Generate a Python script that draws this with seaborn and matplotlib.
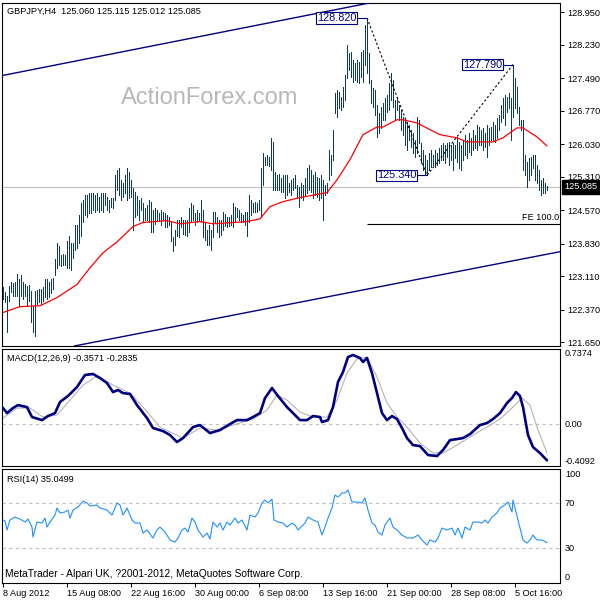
import numpy as np
import pandas as pd
import matplotlib
matplotlib.use("Agg")
import matplotlib.pyplot as plt
import seaborn as sns

# ---------------- data ----------------
symbol_title = "GBPJPY,H4  125.060 125.115 125.012 125.085"
last_close = 125.085

highs = [
    122.87, 122.76, 122.67, 122.89, 122.98, 122.96, 122.98, 123.17, 123.06, 123.15,
    122.98, 122.93, 122.89, 122.91, 122.78, 122.45, 122.78, 122.80, 122.82, 122.82,
    122.88, 123.04, 123.06, 122.99, 123.04, 123.08,
    123.50, 123.85, 123.79, 123.59, 123.61, 123.59, 123.90, 123.99, 123.85, 123.85,
    124.25, 124.25, 124.47, 124.74, 124.80, 124.91, 124.91, 124.96, 124.96, 124.96,
    124.91, 124.96, 124.87, 124.96, 124.96, 124.96, 124.87, 124.80, 124.85, 124.85,
    125.35, 125.47, 125.51, 125.24, 125.18, 125.35, 125.51, 125.42, 125.24, 125.07,
    124.98, 124.89, 124.80, 124.85, 124.74, 124.63, 124.69, 124.80, 124.76, 124.58,
    124.63, 124.58, 124.52, 124.58, 124.54, 124.52, 124.47, 124.41, 124.32, 123.97,
    124.14, 124.36, 124.36, 124.41, 124.36, 124.36, 124.36, 124.63, 124.74, 124.69,
    124.52, 124.58, 124.52, 124.80, 124.58, 124.32, 124.14, 124.25, 124.14, 124.54,
    124.54, 124.43, 124.36, 124.36, 124.54, 124.49, 124.41, 124.43, 124.47, 124.74,
    124.65, 124.63, 124.58, 124.52, 124.47, 124.54, 124.54, 124.91, 124.80, 124.74,
    124.76, 124.74, 124.80, 125.51, 125.84, 125.75, 125.80, 125.75, 126.17, 126.08,
    125.42, 125.35, 125.38, 125.29, 125.35, 125.35, 125.35, 125.18, 125.24, 125.29,
    125.35, 125.13, 125.09,
    125.18, 125.13, 125.29, 125.51, 125.58, 125.47, 125.35, 125.42, 125.31, 125.29,
    125.35, 125.24, 125.13, 125.18, 125.91, 125.80, 126.35,
    127.16, 127.23, 127.18, 127.07, 127.30, 127.56, 128.22, 128.05, 128.07, 127.89,
    127.83, 127.89, 127.85, 128.07, 128.11, 128.66, 128.82, 128.05, 127.45, 127.27,
    127.23, 126.90, 126.72, 126.85, 126.94, 127.05, 127.12, 127.38, 127.60, 127.45,
    127.01, 127.05, 126.90, 126.79, 126.63, 126.57, 126.52, 126.46, 126.35, 126.28,
    126.13, 126.63, 126.57, 126.06, 125.91, 125.80, 125.69, 125.84, 125.91, 125.80,
    125.91, 125.84, 125.95, 126.02, 126.06, 126.02, 126.06,
    126.08, 126.02, 126.06, 126.02, 126.19, 126.08, 126.02, 126.13, 126.24, 126.13,
    126.28, 126.17, 126.35, 126.24, 126.46, 126.41, 126.35, 126.39, 126.28, 126.46,
    126.39, 126.41, 126.52, 126.46, 126.61, 126.68, 126.90, 127.05, 127.12, 127.07,
    127.16, 127.05, 127.79, 127.49, 127.30, 126.85, 126.57, 126.57, 125.80, 125.64,
    125.73, 125.75, 125.80, 125.80, 125.58, 125.47, 125.24, 125.29, 125.18, 125.115,
]
lows = [
    122.60, 122.54, 121.87, 122.56, 122.76, 122.67, 122.67, 122.67, 122.45, 122.67,
    122.60, 122.67, 122.45, 122.56, 122.11, 121.89, 121.78, 122.49, 122.54, 122.49,
    122.56, 122.65, 122.60, 122.66, 122.75, 122.82,
    123.13, 123.30, 123.35, 123.33, 123.35, 123.35, 123.30, 123.30, 123.26, 123.52,
    123.70, 123.74, 123.85, 123.99, 124.32, 124.47, 124.43, 124.52, 124.52, 124.58,
    124.54, 124.58, 124.54, 124.58, 124.54, 124.69, 124.58, 124.54, 124.65, 124.63,
    124.80, 125.02, 124.91, 124.80, 124.87, 124.96, 124.80, 124.85, 124.87, 124.14,
    124.43, 124.47, 124.36, 124.58, 124.32, 124.36, 124.36, 124.32, 124.10, 124.10,
    124.27, 124.36, 124.36, 124.25, 124.36, 124.21, 124.19, 124.25, 123.88, 123.66,
    123.81, 123.99, 123.97, 124.19, 124.05, 124.03, 123.99, 124.10, 124.32, 124.36,
    124.25, 124.32, 124.36, 124.32, 123.97, 123.92, 123.81, 123.81, 123.70, 123.97,
    124.32, 124.10, 123.97, 124.03, 124.14, 124.23, 124.19, 124.23, 124.25, 124.21,
    124.30, 124.41, 124.36, 124.32, 124.30, 124.25, 123.99, 124.32, 124.47, 124.54,
    124.54, 124.54, 124.58, 124.41, 125.13, 125.58, 125.58, 125.54, 125.47, 125.02,
    125.02, 125.02, 125.02, 124.98, 124.98, 124.85, 124.91, 124.98, 124.91, 125.02,
    125.07, 124.85, 124.65,
    124.85, 124.80, 124.91, 124.96, 125.02, 124.98, 124.85, 124.91, 124.87, 124.80,
    124.85, 124.36, 124.91, 124.96, 125.24, 125.35, 125.69,
    126.72, 126.63, 126.83, 126.79, 126.85, 127.01, 127.49, 127.67, 127.52, 127.41,
    127.45, 127.41, 127.38, 127.52, 127.41, 127.78, 127.60, 127.38, 126.94, 126.85,
    126.68, 126.19, 126.28, 126.39, 126.57, 126.57, 126.74, 126.79, 127.01, 126.85,
    126.57, 126.79, 126.57, 126.35, 126.24, 126.02, 125.91, 126.13, 125.97, 125.84,
    125.75, 125.84, 126.06, 125.62, 125.47, 125.35, 125.34, 125.47, 125.53, 125.58,
    125.53, 125.58, 125.62, 125.69, 125.69, 125.62, 125.75,
    125.58, 125.69, 125.47, 125.73, 125.64, 125.51, 125.47, 125.69, 125.80, 125.73,
    125.86, 125.80, 125.91, 125.95, 125.91, 126.02, 126.02, 125.91, 125.97, 125.75,
    126.02, 126.13, 126.13, 126.08, 126.17, 126.35, 126.52, 126.61, 126.46, 126.74,
    126.83, 126.13, 126.63, 126.83, 126.72, 126.46, 126.35, 125.47, 125.35, 125.09,
    125.24, 125.35, 125.51, 125.24, 125.18, 125.02, 124.91, 124.96, 124.96, 125.012,
]

ma_bar = [0, 8.5, 18.5, 27, 37, 43.5, 50, 57, 65, 70, 82, 88.5, 98.5, 105, 115, 122,
          128.5, 133.5, 140, 148.5, 162, 167, 173.5, 180, 187, 190, 197, 200, 207,
          213.5, 218.5, 227, 232, 245, 250, 257, 260, 267, 272]
ma_val = [122.31, 122.44, 122.46, 122.64, 122.93, 123.30, 123.63, 123.87, 124.21, 124.30,
          124.34, 124.27, 124.32, 124.27, 124.30, 124.32, 124.38, 124.65, 124.76, 124.85,
          124.96, 125.24, 125.69, 126.24, 126.41, 126.41, 126.57, 126.57, 126.50, 126.35,
          126.24, 126.17, 126.08, 126.08, 126.17, 126.39, 126.39, 126.19, 125.99]

macd_bar = [0, 2, 5, 7.5, 12, 14.5, 19.5, 22.5, 26, 28.5, 32.5, 37, 41, 45, 48.5, 52, 55,
            57.5, 60, 63.5, 67, 72, 75, 80, 83.5, 87, 90, 95, 98.5, 103.5, 108.5, 113.5,
            117, 122, 125, 128.5, 131, 134.5, 137.5, 142, 148.5, 152, 155, 158.5, 159.5,
            162.5, 165, 167.5, 170, 172.5, 175, 178.5, 180, 182, 184.5, 187, 189.5, 192,
            194.5, 197, 199.5, 202, 205, 208.5, 212.5, 217, 220, 223.5, 227, 230, 233.5,
            238.5, 242, 245, 248.5, 252, 254.5, 256.5, 258.5, 260, 262.5, 265, 268.5, 272]
macd_val = [0.158, 0.108, 0.158, 0.187, 0.167, 0.069, 0.039, 0.079, 0.108, 0.217, 0.276,
            0.365, 0.483, 0.493, 0.453, 0.404, 0.315, 0.335, 0.305, 0.296, 0.187, 0.059,
            -0.039, -0.069, -0.108, -0.177, -0.138, -0.030, -0.010, -0.089, -0.059, 0.0,
            0.039, 0.039, 0.069, 0.108, 0.256, 0.355, 0.276, 0.167, 0.039, 0.039, 0.079,
            0.069, 0.020, 0.039, 0.167, 0.414, 0.512, 0.660, 0.680, 0.650, 0.611, 0.650,
            0.502, 0.305, 0.108, 0.039, 0.079, 0.049, -0.039, -0.138, -0.207, -0.217,
            -0.305, -0.315, -0.256, -0.158, -0.148, -0.138, -0.099, -0.010, 0.010, 0.049,
            0.108, 0.207, 0.256, 0.315, 0.276, 0.167, -0.108, -0.227, -0.286, -0.3571]

sig_bar = [0, 7, 13.5, 20, 27, 33.5, 40, 47, 55, 63.5, 70, 78.5, 90, 98.5, 107, 115, 125,
           132, 137, 142, 148.5, 155, 162, 167, 172, 177, 182, 187, 192, 197, 202, 208.5,
           215, 220, 227, 235, 242, 248.5, 255, 259.5, 263.5, 267.5, 272]
sig_val = [0.059, 0.158, 0.158, 0.069, 0.089, 0.236, 0.384, 0.473, 0.384, 0.305, 0.167,
           -0.030, -0.138, -0.039, -0.059, -0.010, 0.049, 0.138, 0.286, 0.236, 0.118,
           0.069, 0.069, 0.236, 0.502, 0.640, 0.660, 0.463, 0.207, 0.069, -0.030, -0.187,
           -0.286, -0.286, -0.207, -0.108, -0.030, 0.049, 0.167, 0.256, 0.187, -0.059,
           -0.2835]

rsi_bar = [0, 1, 2, 3.5, 6, 8.5, 11, 12.5, 14.5, 15, 17, 19.5, 21, 22, 23.5, 26, 27, 28.5,
           31, 32.5, 33.5, 35, 37.5, 40, 42, 43.5, 47, 48.5, 52, 54.5, 57, 58.5, 60, 62,
           64.5, 66, 68.5, 70, 72, 75, 77, 78.5, 81, 83.5, 86, 87.5, 89.5, 91, 92.5, 94.5,
           96, 97.5, 100, 102, 103.5, 105, 107, 108.5, 110, 112, 113.5, 116, 117.5, 119.5,
           122, 123.5, 126, 127.5, 129.5, 131, 132.5, 134.5, 135.5, 137.5, 140, 142,
           144.5, 146, 147.5, 148.5, 151, 152.5, 155, 157.5, 159.5, 161, 162.5, 164.5,
           166, 167.5, 169.5, 171, 172.5, 174.5, 177, 179.5, 181, 182.5, 184.5, 186,
           187.5, 189.5, 191, 193.5, 195, 197, 199.5, 202, 205, 207.5, 209.5, 212, 213.5,
           216, 217.5, 219.5, 222, 224.5, 226, 227.5, 229.5, 231, 233.5, 235, 237.5,
           239.5, 241, 242.5, 244.5, 247, 248.5, 251, 252.5, 254.5, 255, 257.5, 260, 262,
           263.5, 265, 267, 269.5, 272]
rsi_val = [55.2, 54.3, 46.3, 55.2, 57.8, 56.0, 53.4, 56.0, 48.9, 40.0, 53.4, 52.5, 56.9,
           48.9, 53.4, 59.6, 65.8, 61.4, 62.3, 64.0, 56.9, 64.0, 66.7, 72.0, 70.3, 67.6,
           68.5, 65.8, 64.0, 59.6, 70.3, 68.5, 59.6, 65.8, 55.2, 52.5, 52.5, 43.6, 46.3,
           39.2, 46.3, 48.9, 44.5, 37.4, 35.6, 39.2, 46.3, 48.0, 44.5, 56.9, 53.4, 46.3,
           40.0, 43.6, 38.3, 53.4, 48.9, 52.5, 46.3, 53.4, 50.7, 56.9, 52.5, 55.2, 46.3,
           59.6, 57.8, 61.4, 70.3, 72.9, 70.3, 73.8, 55.2, 53.4, 52.5, 48.9, 52.5, 50.7,
           46.3, 48.0, 52.5, 57.8, 55.2, 53.4, 41.8, 48.9, 56.9, 65.8, 77.4, 75.6, 79.2,
           79.2, 81.8, 71.2, 71.2, 70.3, 74.7, 64.0, 52.5, 50.7, 44.5, 41.8, 50.7, 56.9,
           48.9, 46.3, 41.8, 39.2, 39.2, 41.8, 37.4, 32.9, 37.4, 35.6, 39.2, 48.0, 46.3,
           48.0, 41.8, 48.0, 39.2, 48.9, 46.3, 53.4, 53.4, 52.5, 55.2, 52.5, 57.8, 61.4,
           65.8, 68.5, 71.2, 62.3, 72.9, 55.2, 37.4, 34.7, 37.4, 41.8, 37.4, 37.4, 35.05]

price_ticks = [128.950, 128.230, 127.490, 126.770, 126.030, 125.310, 124.570,
               123.830, 123.110, 122.370, 121.650]
tick_bars = [0, 32, 64, 96, 128, 160, 192, 224, 256]
tick_labels = ["8 Aug 2012", "15 Aug 08:00", "22 Aug 16:00", "30 Aug 00:00",
               "6 Sep 08:00", "13 Sep 16:00", "21 Sep 00:00", "28 Sep 08:00",
               "5 Oct 16:00"]

swing_bars = [182, 212, 255]
swing_prices = [128.82, 125.34, 127.79]
fe_start_bar = 182
fe_level = 124.26
upper_channel = [(0, 127.55), (150, 128.86)]
lower_channel = [(38, 121.59), (278, 123.65)]

macd_title = "MACD(12,26,9) -0.3571 -0.2835"
macd_labels = [(0.7374, "0.7374"), (0.0, "0.00"), (-0.4092, "-0.4092")]
rsi_title = "RSI(14) 35.0499"
rsi_labels = [(100, "100"), (70, "70"), (30, "30"), (0, "0")]
copyright_text = "MetaTrader - Alpari UK, ?2001-2012, MetaQuotes Software Corp."

# ---------------- style ----------------
sns.set_theme(style="white")
plt.rcParams["font.family"] = ["Liberation Sans", "DejaVu Sans"]

BAR = "#0f3c55"
NAVY = "#000080"
FS = 6.6

fig = plt.figure(figsize=(6, 6), dpi=100, facecolor="white")
W = H = 600.0


def rect(x0, y0, x1, y1):
    return [x0 / W, 1 - y1 / H, (x1 - x0) / W, (y1 - y0) / H]


ax1 = fig.add_axes(rect(2, 3, 560, 346))
ax2 = fig.add_axes(rect(2, 349, 560, 466))
ax3 = fig.add_axes(rect(2, 469, 560, 583))

for ax in (ax1, ax2, ax3):
    ax.set_facecolor("white")
    ax.set_xlim(-0.5, 278.5)
    for s in ax.spines.values():
        s.set_color("black")
        s.set_linewidth(0.8)
    ax.grid(False)

# ---------------- price panel ----------------
n = min(len(highs), len(lows))
bars = pd.DataFrame({"bar": np.arange(n), "high": highs[:n], "low": lows[:n]})

ax1.axhline(last_close, color="#c0c0c0", lw=0.8, zorder=1)
ax1.text(0.373, 0.723, "ActionForex.com", transform=ax1.transAxes, fontsize=17,
         color="#b8b8b8", ha="center", va="center", zorder=1)
ax1.vlines(bars["bar"], bars["low"], bars["high"], color=BAR, lw=0.72,
           antialiased=False, zorder=3)
sns.lineplot(x=ma_bar, y=ma_val, ax=ax1, color="#ff0000", lw=0.9, sort=False,
             estimator=None, zorder=4)

ax1.axline(upper_channel[0], upper_channel[1], color=NAVY, lw=1.0, zorder=4)
ax1.axline(lower_channel[0], lower_channel[1], color=NAVY, lw=1.0, zorder=4)

ax1.plot(swing_bars, swing_prices, color="black", lw=0.8, ls=(0, (2, 2)), zorder=5)
ax1.hlines(fe_level, fe_start_bar, 278.5, color="black", lw=0.8, zorder=5)
ax1.text(278.0, fe_level + 0.04, "FE 100.0", ha="right", va="bottom", fontsize=FS,
         color="black", zorder=6)

for b, p in zip(swing_bars, swing_prices):
    ax1.plot([b - 5, b], [p, p], color=NAVY, lw=0.8, zorder=6)
    ax1.text(b - 5.45, p, f"{p:.3f}", ha="right", va="center", color=NAVY,
             fontsize=7.8, zorder=7,
             bbox=dict(boxstyle="square,pad=0.08", fc="white", ec=NAVY, lw=0.8))

ax1.text(0.009, 0.977, symbol_title, transform=ax1.transAxes, fontsize=FS,
         ha="left", va="center", color="black")

ax1.set_ylim(121.57, 129.15)
ax1.yaxis.tick_right()
ax1.set_yticks(price_ticks)
ax1.set_yticklabels([f"{v:.3f}" for v in price_ticks])
ax1.tick_params(axis="y", labelsize=FS, length=3, width=0.7, pad=2,
                direction="out", colors="black", right=True, left=False)
ax1.tick_params(axis="x", bottom=False, labelbottom=False)
ax1.annotate(f"{last_close:.3f}", xy=(1, last_close),
             xycoords=("axes fraction", "data"), xytext=(3.2, 0),
             textcoords="offset points", ha="left", va="center", color="white",
             fontsize=FS, annotation_clip=False,
             bbox=dict(boxstyle="square,pad=0.25", fc="black", ec="black"))
ax1.set_xlabel("")
ax1.set_ylabel("")

# ---------------- MACD panel ----------------
ax2.axhline(0, color="#c0c0c0", lw=0.8, ls=(0, (3, 3)), zorder=1)
sns.lineplot(x=sig_bar, y=sig_val, ax=ax2, color="#b4b4b4", lw=0.8, sort=False,
             estimator=None, zorder=2)
sns.lineplot(x=macd_bar, y=macd_val, ax=ax2, color=NAVY, lw=1.9, sort=False,
             estimator=None, zorder=3)
ax2.set_ylim(-0.413, 0.739)
ax2.set_yticks([])
ax2.set_xticks([])
ax2.text(0.009, 0.915, macd_title, transform=ax2.transAxes, fontsize=FS,
         ha="left", va="center", color="black")
for i, (v, s) in enumerate(macd_labels):
    va = "top" if i == 0 else ("bottom" if i == len(macd_labels) - 1 else "center")
    ax2.annotate(s, xy=(1, v), xycoords=("axes fraction", "data"), xytext=(3.6, 0),
                 textcoords="offset points", ha="left", va=va, fontsize=FS,
                 color="black", annotation_clip=False)
ax2.set_xlabel("")
ax2.set_ylabel("")

# ---------------- RSI panel ----------------
for lv in (70, 30):
    ax3.axhline(lv, color="#c0c0c0", lw=0.8, ls=(0, (3, 3)), zorder=1)
sns.lineplot(x=rsi_bar, y=rsi_val, ax=ax3, color="#1e90ff", lw=0.8, sort=False,
             estimator=None, zorder=3)
ax3.set_ylim(-0.8, 100.5)
ax3.set_yticks([])
ax3.text(0.009, 0.912, rsi_title, transform=ax3.transAxes, fontsize=FS,
         ha="left", va="center", color="black")
ax3.text(0.005, 0.075, copyright_text, transform=ax3.transAxes, fontsize=7.4,
         ha="left", va="center", color="black")
for i, (v, s) in enumerate(rsi_labels):
    va = "top" if i == 0 else ("bottom" if i == len(rsi_labels) - 1 else "center")
    ax3.annotate(s, xy=(1, v), xycoords=("axes fraction", "data"), xytext=(3.6, 0),
                 textcoords="offset points", ha="left", va=va, fontsize=FS,
                 color="black", annotation_clip=False)
ax3.set_xticks(tick_bars)
ax3.set_xticklabels(tick_labels, ha="left")
ax3.tick_params(axis="x", labelsize=FS, length=3, width=0.7, pad=1.5,
                direction="out", colors="black", bottom=True)
ax3.set_xlabel("")
ax3.set_ylabel("")

fig.savefig("out.png", dpi=100, facecolor="white")
